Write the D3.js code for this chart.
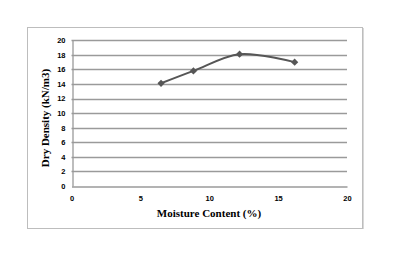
<!DOCTYPE html>
<html>
<head>
<meta charset="utf-8">
<script src="https://cdn.jsdelivr.net/npm/d3@7"></script>
<style>
  body { margin: 0; background: #fff; }
  svg { display: block; }
</style>
</head>
<body>
<svg id="chart" width="396" height="263"></svg>
<script>
// данные графика
const moisture = [6.5, 8.85, 12.2, 16.2];
const density = [14.1, 15.8, 18.1, 17.0];
const xTicks = [0, 5, 10, 15, 20];
const yTicks = [0, 2, 4, 6, 8, 10, 12, 14, 16, 18, 20];

const svg = d3.select('#chart');

// рамка области диаграммы
svg.append('rect')
    .attr('x', 27.5).attr('y', 27.5)
    .attr('width', 335).attr('height', 201)
    .attr('fill', '#fff')
    .attr('stroke', '#bdbdbd')
    .attr('stroke-width', 1);
svg.append('line')
    .attr('x1', 363.5).attr('x2', 363.5).attr('y1', 28).attr('y2', 229)
    .attr('stroke', '#d8d8d8');

const x = d3.scaleLinear().domain([0, 20]).range([71.5, 347]);
const y = d3.scaleLinear().domain([0, 20]).range([186, 40.3]);

// сетка
svg.append('g')
    .selectAll('line')
    .data(yTicks.filter(d => d > 0))
    .enter()
    .append('line')
    .attr('x1', x(0)).attr('x2', x(20))
    .attr('y1', d => Math.round(y(d)) + 0.5)
    .attr('y2', d => Math.round(y(d)) + 0.5)
    .attr('stroke', '#9a9a9a')
    .attr('stroke-width', 1.3);

// оси
const axisStyle = g => {
    g.select('.domain').attr('stroke', '#9a9a9a').attr('stroke-width', 1.3);
    g.selectAll('.tick line').remove();
    g.selectAll('.tick text')
        .attr('font-family', 'Liberation Sans, Arial, sans-serif')
        .attr('font-weight', 'bold')
        .attr('font-size', '7.5px')
        .attr('fill', '#000');
};

svg.append('g')
    .attr('transform', `translate(0,${Math.round(y(0)) + 0.5})`)
    .call(d3.axisBottom(x).tickValues(xTicks).tickSize(0).tickPadding(9).tickSizeOuter(0))
    .call(axisStyle);

svg.append('g')
    .attr('transform', `translate(${Math.round(x(0)) + 0.5},0)`)
    .call(d3.axisLeft(y).tickValues(yTicks).tickSize(0).tickPadding(7).tickSizeOuter(0))
    .call(axisStyle);

// линия
const pts = moisture.map((m, i) => [m, density[i]]);
svg.append('path')
    .datum(pts)
    .attr('fill', 'none')
    .attr('stroke', '#565656')
    .attr('stroke-width', 2)
    .attr('d', d3.line().x(d => x(d[0])).y(d => y(d[1])).curve(d3.curveCatmullRom.alpha(0.5)));

// маркеры (ромбы)
svg.append('g')
    .selectAll('path')
    .data(pts)
    .enter()
    .append('path')
    .attr('transform', d => `translate(${x(d[0])},${y(d[1])}) rotate(45)`)
    .attr('d', d3.symbol().type(d3.symbolSquare).size(26))
    .attr('fill', '#565656');

// подписи осей
svg.append('text')
    .attr('x', 209).attr('y', 217)
    .attr('text-anchor', 'middle')
    .attr('font-family', 'Liberation Serif, Times New Roman, serif')
    .attr('font-weight', 'bold')
    .attr('font-size', '11px')
    .text('Moisture Content (%)');

svg.append('text')
    .attr('transform', 'translate(49,118) rotate(-90)')
    .attr('text-anchor', 'middle')
    .attr('font-family', 'Liberation Serif, Times New Roman, serif')
    .attr('font-weight', 'bold')
    .attr('font-size', '11px')
    .text('Dry Density (kN/m3)');
</script>
</body>
</html>
